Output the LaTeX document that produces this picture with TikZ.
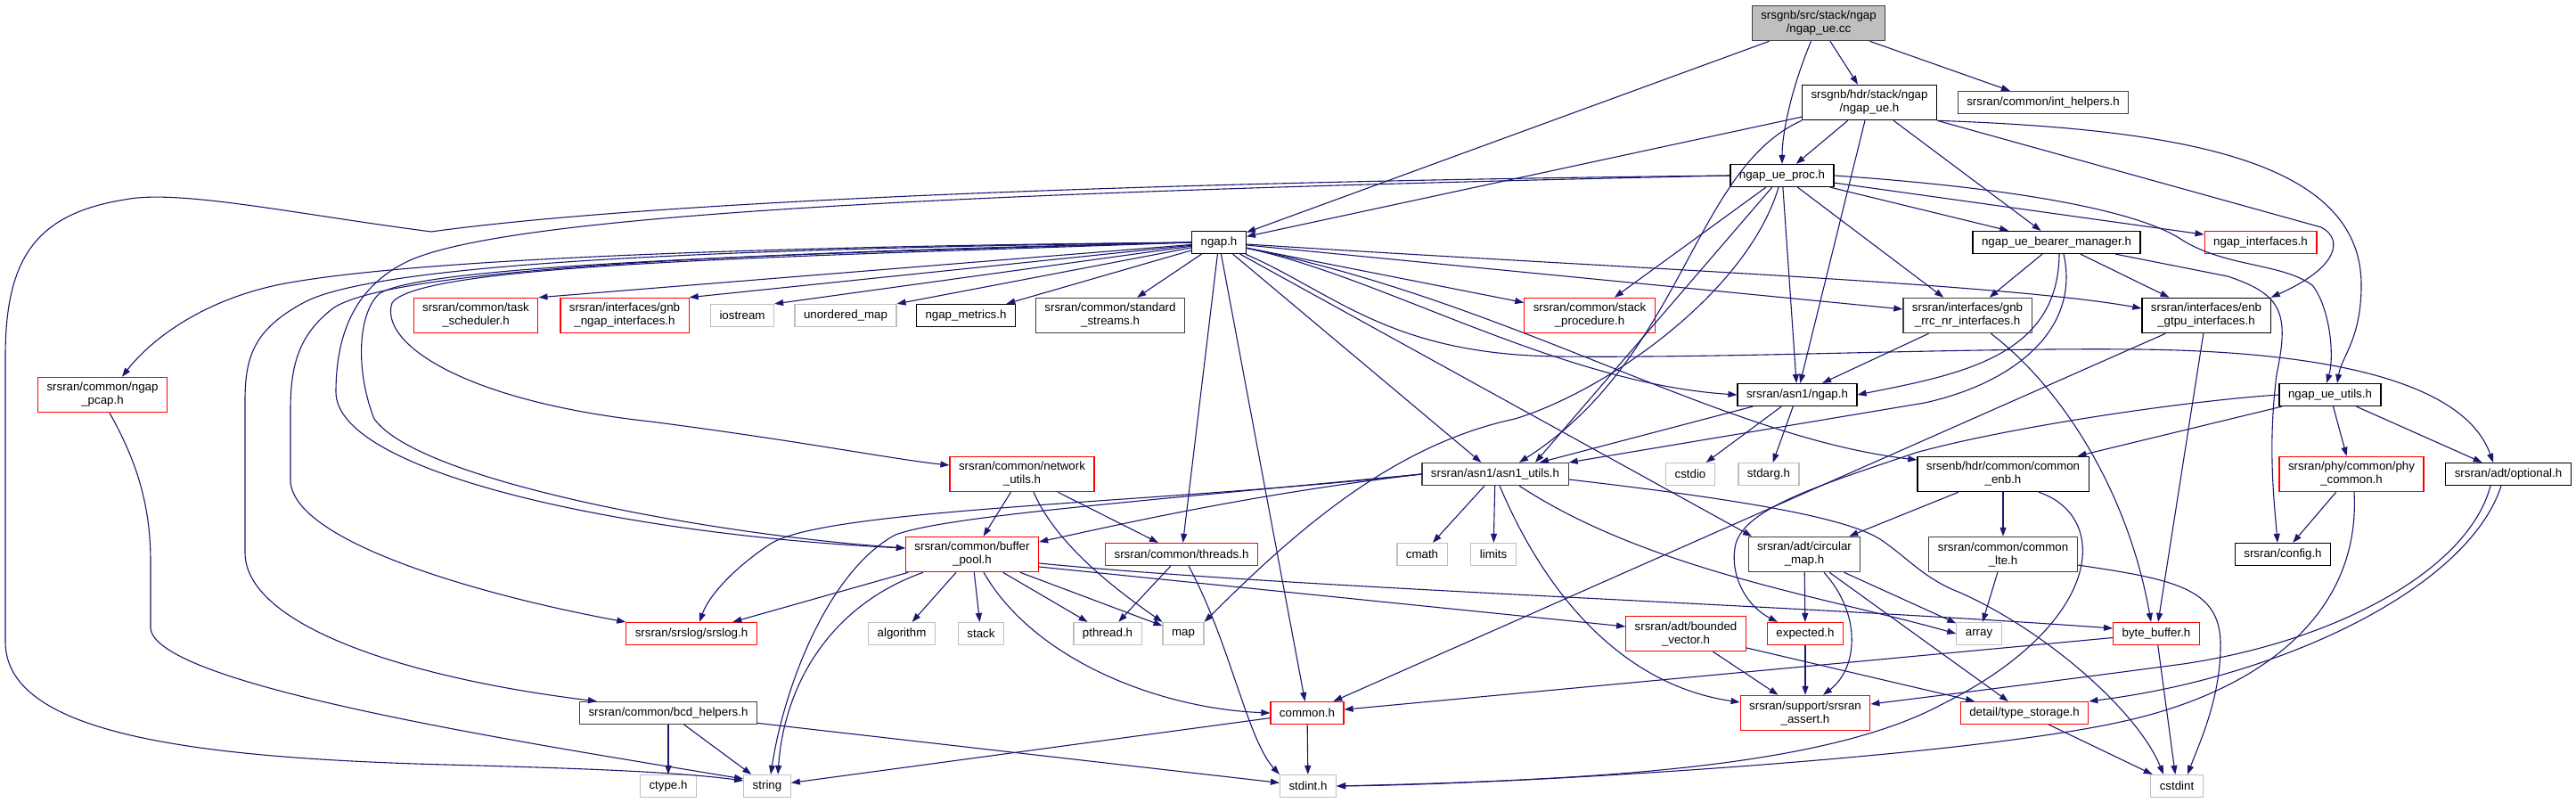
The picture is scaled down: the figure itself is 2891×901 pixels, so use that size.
\documentclass[tikz,border=0pt]{standalone}
\usepackage{fontspec}
\setmainfont{Liberation Sans}
\usepackage{tikz}
\usetikzlibrary{arrows.meta}
\definecolor{edgec}{HTML}{191970}
\definecolor{redc}{HTML}{FF0000}
\definecolor{sysc}{HTML}{BFBFBF}
\definecolor{darkc}{HTML}{404040}
\definecolor{mainc}{HTML}{BFBFBF}
\tikzset{
  hdr/.style={draw=black, line width=1.2pt, fill=white, inner xsep=10pt, inner ysep=6pt, minimum height=25pt, align=center, font=\fontsize{13.3}{15}\selectfont},
  hdrdark/.style={hdr, draw=darkc},
  hdrred/.style={hdr, draw=redc},
  hdrsys/.style={hdr, draw=sysc},
  hdrmain/.style={hdr, draw=darkc, fill=mainc},
  dep/.style={draw=edgec, line width=1.1pt, -{Triangle[length=10pt,width=7pt]}},
}

\begin{document}
\begin{tikzpicture}[x=1pt,y=-1pt]
\useasboundingbox (0,0) rectangle (2891,901);
\node[hdrmain] (src) at (2041,26) {srsgnb/src/stack/ngap\\/ngap\_ue.cc};
\node[hdr] (ueh) at (2098,115) {srsgnb/hdr/stack/ngap\\/ngap\_ue.h};
\node[hdrdark] (inthelp) at (2293,115) {srsran/common/int\_helpers.h};
\node[hdr] (ueproc) at (2000,197) {ngap\_ue\_proc.h};
\node[hdr] (ngaph) at (1368,272) {ngap.h};
\node[hdr] (bearer) at (2308,272) {ngap\_ue\_bearer\_manager.h};
\node[hdrred] (ngapif) at (2537,272) {ngap\_interfaces.h};
\node[hdrred] (pcap) at (115,443) {srsran/common/ngap\\\_pcap.h};
\node[hdrred] (tasksch) at (534,354) {srsran/common/task\\\_scheduler.h};
\node[hdrred] (gnbngap) at (701,354) {srsran/interfaces/gnb\\\_ngap\_interfaces.h};
\node[hdrsys] (iostream) at (833,354) {iostream};
\node[hdrsys] (umap) at (949,354) {unordered\_map};
\node[hdr] (metrics) at (1084,354) {ngap\_metrics.h};
\node[hdrdark] (stdstreams) at (1246,354) {srsran/common/standard\\\_streams.h};
\node[hdrred] (stackproc) at (1784,354) {srsran/common/stack\\\_procedure.h};
\node[hdrdark] (rrcnr) at (2208,354) {srsran/interfaces/gnb\\\_rrc\_nr\_interfaces.h};
\node[hdr] (gtpu) at (2476,354) {srsran/interfaces/enb\\\_gtpu\_interfaces.h};
\node[hdr] (asnngap) at (2017,443) {srsran/asn1/ngap.h};
\node[hdr] (ueutils) at (2615,443) {ngap\_ue\_utils.h};
\node[hdrred] (netutils) at (1147,532) {srsran/common/network\\\_utils.h};
\node[hdrdark] (asnutils) at (1678,532) {srsran/asn1/asn1\_utils.h};
\node[hdrsys] (cstdio) at (1897,532) {cstdio};
\node[hdrsys] (stdarg) at (1985,532) {stdarg.h};
\node[hdr] (commonenb) at (2248,532) {srsenb/hdr/common/common\\\_enb.h};
\node[hdrred] (phycommon) at (2639,532) {srsran/phy/common/phy\\\_common.h};
\node[hdr] (optional) at (2815,532) {srsran/adt/optional.h};
\node[hdrred] (bufpool) at (1091,622) {srsran/common/buffer\\\_pool.h};
\node[hdrred] (threads) at (1326,622) {srsran/common/threads.h};
\node[hdrsys] (cmath) at (1596,622) {cmath};
\node[hdrsys] (limits) at (1676,622) {limits};
\node[hdrdark] (circmap) at (2025,622) {srsran/adt/circular\\\_map.h};
\node[hdrdark] (commonlte) at (2248,622) {srsran/common/common\\\_lte.h};
\node[hdr] (config) at (2562,622) {srsran/config.h};
\node[hdrred] (srslog) at (776,711) {srsran/srslog/srslog.h};
\node[hdrsys] (algorithm) at (1012,711) {algorithm};
\node[hdrsys] (stack) at (1101,711) {stack};
\node[hdrsys] (pthread) at (1243,711) {pthread.h};
\node[hdrsys] (map) at (1328,711) {map};
\node[hdrred] (boundedvec) at (1892,711) {srsran/adt/bounded\\\_vector.h};
\node[hdrred] (expected) at (2026,711) {expected.h};
\node[hdrsys] (array) at (2221,711) {array};
\node[hdrred] (bytebuf) at (2420,711) {byte\_buffer.h};
\node[hdrdark] (bcd) at (750,800) {srsran/common/bcd\_helpers.h};
\node[hdrred] (common) at (1467,800) {common.h};
\node[hdrred] (assert) at (2026,800) {srsran/support/srsran\\\_assert.h};
\node[hdrred] (typestor) at (2272,800) {detail/type\_storage.h};
\node[hdrsys] (ctype) at (750,882) {ctype.h};
\node[hdrsys] (string) at (861,882) {string};
\node[hdrsys] (stdint) at (1468,882) {stdint.h};
\node[hdrsys] (cstdint) at (2443,882) {cstdint};

\draw[dep] (src) -- (ngaph);
\draw[dep] (src) .. controls (2010,100) and (2000,150) .. (ueproc);
\draw[dep] (src) -- (ueh);
\draw[dep] (src) -- (inthelp);

\draw[dep] (ueh) -- (ueproc);
\draw[dep] (ueh) -- (ngaph);
\draw[dep] (ueh) -- (asnngap);
\draw[dep] (ueh.south west) .. controls (1900,190) and (1890,400) .. ([xshift=27pt]asnutils.north);
\draw[dep] (ueh) -- (bearer);
\draw[dep] (ueh.south east) .. controls (2450,145) and (2650,180) .. (2650,320) .. controls (2650,380) and (2628,400) .. ([xshift=8pt]ueutils.north);
\draw[dep] (ueh.south east) -- (2605,255) .. controls (2630,268) and (2625,300) .. (gtpu.north east);

\draw[dep] (ueproc.west) .. controls (1200,205) and (700,230) .. (484,260) .. controls (330,240) and (200,212) .. (140,224) .. controls (40,240) and (6,290) .. (6,400) -- (6,720) .. controls (6,820) and (200,850) .. (500,858) .. controls (650,862) and (760,866) .. ([yshift=6pt]string.west);
\draw[dep] (ueproc.west) .. controls (1100,215) and (560,240) .. (454,295) .. controls (395,325) and (377,380) .. (377,440) .. controls (377,530) and (700,600) .. ([yshift=7pt]bufpool.west);
\draw[dep] (ueproc) -- (stackproc);
\draw[dep] (ueproc) -- ([xshift=45pt]asnutils.north);
\draw[dep] (ueproc) .. controls (1960,330) and (1800,440) .. (1700,470) .. controls (1560,500) and (1450,600) .. (map.north east);
\draw[dep] (ueproc) -- (asnngap);
\draw[dep] (ueproc) -- (rrcnr);
\draw[dep] (ueproc.east) .. controls (2250,210) and (2400,235) .. (2450,270) .. controls (2500,300) and (2560,295) .. (2595,320) .. controls (2615,345) and (2620,400) .. ([xshift=-4pt]ueutils.north);
\draw[dep] (ueproc) -- (ngapif);
\draw[dep] (ueproc) -- (bearer);

\draw[dep] (bearer) -- (rrcnr);
\draw[dep] ([xshift=3pt]bearer.south) .. controls (2310,400) and (2200,420) .. (asnngap.east);
\draw[dep] ([xshift=8pt]bearer.south) .. controls (2335,370) and (2260,430) .. (2160,452) -- (asnutils.north east);
\draw[dep] (bearer) -- (gtpu);
\draw[dep] ([xshift=66pt]bearer.south) -- (2500,310) .. controls (2560,330) and (2570,350) .. (2555,420) .. controls (2545,500) and (2552,560) .. ([xshift=-6pt]config.north);

\draw[dep] (ngaph.west) .. controls (1000,275) and (500,285) .. (320,318) .. controls (230,335) and (170,380) .. ([xshift=22pt]pcap.north);
\draw[dep] (ngaph.west) .. controls (900,278) and (430,290) .. (340,340) .. controls (285,370) and (275,400) .. (275,450) -- (275,620) .. controls (275,700) and (450,760) .. ([xshift=20pt]bcd.north west);
\draw[dep] (ngaph.west) .. controls (900,282) and (450,298) .. (375,345) .. controls (335,375) and (326,410) .. (326,460) -- (326,540) .. controls (330,610) and (550,670) .. (srslog.north west);
\draw[dep] (ngaph.west) .. controls (900,288) and (470,295) .. (440,340) .. controls (425,385) and (520,450) .. (730,473) .. controls (900,495) and (1000,515) .. ([yshift=10pt]netutils.west);
\draw[dep] (ngaph.west) .. controls (900,284) and (470,297) .. (425,330) .. controls (400,355) and (400,420) .. (420,470) .. controls (470,540) and (800,600) .. ([yshift=7pt]bufpool.west);
\draw[dep] (ngaph) -- (tasksch.north east);
\draw[dep] (ngaph) -- (gnbngap.north east);
\draw[dep] (ngaph) -- (iostream.north east);
\draw[dep] (ngaph) -- (umap.north east);
\draw[dep] (ngaph) -- (metrics);
\draw[dep] (ngaph) -- (stdstreams);
\draw[dep] (ngaph) -- (stackproc);
\draw[dep] (ngaph) -- (rrcnr);
\draw[dep] (ngaph) .. controls (1800,300) and (2250,318) .. ([yshift=8pt]gtpu.west);
\draw[dep] (ngaph) .. controls (1550,310) and (1750,430) .. (asnngap.west);
\draw[dep] (ngaph) -- (asnutils);
\draw[dep] (ngaph) .. controls (1700,340) and (1930,490) .. ([yshift=16pt]commonenb.west);
\draw[dep] (ngaph) .. controls (1500,330) and (1560,398) .. (1750,400) .. controls (1950,402) and (2200,390) .. (2400,392) .. controls (2650,395) and (2770,440) .. ([xshift=-17pt]optional.north);
\draw[dep] (ngaph) -- ([xshift=-59pt]circmap.north);
\draw[dep] (ngaph) -- (threads);
\draw[dep] (ngaph) -- (common);

\draw[dep] (asnngap) -- (asnutils);
\draw[dep] (asnngap) -- (cstdio);
\draw[dep] (asnngap) -- (stdarg);

\draw[dep] (rrcnr) -- (asnngap);
\draw[dep] (rrcnr) .. controls (2320,440) and (2390,560) .. ([xshift=-6pt]bytebuf.north);
\draw[dep] (gtpu) -- (bytebuf);
\draw[dep] (gtpu) -- (common);

\draw[dep] (ueutils) -- (commonenb);
\draw[dep] (ueutils) -- (phycommon);
\draw[dep] (ueutils) -- (optional);
\draw[dep] (ueutils.west) .. controls (2450,450) and (2250,480) .. (2150,508) .. controls (2040,545) and (1960,570) .. (1948,610) .. controls (1940,645) and (1960,680) .. ([xshift=12pt]expected.north west);

\draw[dep] (commonenb) -- (circmap);
\draw[dep] (commonenb) -- (commonlte);
\draw[dep] ([xshift=40pt]commonenb.south) .. controls (2370,580) and (2360,700) .. (2180,790) .. controls (2050,860) and (1800,875) .. (stdint.east);

\draw[dep] (phycommon) -- (config);
\draw[dep] ([xshift=3pt]phycommon.south) .. controls (2650,700) and (2520,780) .. (2380,810) .. controls (2200,850) and (1700,880) .. (stdint.east);

\draw[dep] ([xshift=-20pt]optional.south) .. controls (2770,640) and (2620,720) .. (2450,745) .. controls (2300,765) and (2180,780) .. ([yshift=10pt]assert.east);
\draw[dep] ([xshift=-8pt]optional.south) .. controls (2770,660) and (2560,760) .. (typestor.north east);

\draw[dep] (netutils) -- (bufpool);
\draw[dep] ([xshift=13pt]netutils.south) .. controls (1185,610) and (1250,660) .. (map.north west);
\draw[dep] (netutils) -- (threads);

\draw[dep] (threads) -- (pthread);
\draw[dep] ([xshift=8pt]threads.south) .. controls (1380,720) and (1400,830) .. (stdint.north west);

\draw[dep] (bufpool) -- (srslog);
\draw[dep] ([xshift=-55pt]bufpool.south) .. controls (930,680) and (880,770) .. ([xshift=12pt]string.north);
\draw[dep] (bufpool) -- (algorithm);
\draw[dep] (bufpool) -- (stack);
\draw[dep] (bufpool) -- (pthread);
\draw[dep] (bufpool) -- (map);
\draw[dep] ([xshift=13pt]bufpool.south) .. controls (1160,740) and (1300,795) .. (common.west);
\draw[dep] ([yshift=-10pt]bufpool.east) .. controls (1450,660) and (2000,678) .. ([yshift=6pt]bytebuf.west);
\draw[dep] ([yshift=-14pt]bufpool.east) -- ([yshift=8pt]boundedvec.west);

\draw[dep] (asnutils) -- (cmath);
\draw[dep] (asnutils) -- (limits);
\draw[dep] ([xshift=5pt]asnutils.south) .. controls (1740,680) and (1830,770) .. ([yshift=12pt]assert.west);
\draw[dep] ([xshift=27pt]asnutils.south) .. controls (1850,640) and (2050,670) .. (array.west);
\draw[dep] ([yshift=-6pt]asnutils.east) .. controls (1950,560) and (2070,580) .. (2110,605) .. controls (2140,625) and (2160,650) .. (2200,665) .. controls (2300,710) and (2400,800) .. ([xshift=-15pt]cstdint.north);
\draw[dep] (asnutils.west) .. controls (1300,565) and (930,570) .. (865,610) .. controls (820,640) and (795,670) .. ([xshift=9pt]srslog.north);
\draw[dep] (asnutils.west) .. controls (1400,555) and (1250,590) .. ([yshift=14pt]bufpool.east);
\draw[dep] (asnutils.west) .. controls (1250,565) and (1060,580) .. (1005,600) .. controls (930,640) and (880,770) .. ([xshift=4pt]string.north);

\draw[dep] (circmap) -- (expected);
\draw[dep] ([xshift=22pt]circmap.south) .. controls (2090,690) and (2085,750) .. ([xshift=20pt]assert.north);
\draw[dep] (circmap) -- (array);
\draw[dep] (circmap) -- (typestor);

\draw[dep] (commonlte) -- (array);
\draw[dep] ([yshift=-12pt]commonlte.east) .. controls (2440,650) and (2490,660) .. (2492,720) .. controls (2493,780) and (2470,830) .. ([xshift=12pt]cstdint.north);

\draw[dep] (boundedvec) -- (assert);
\draw[dep] (boundedvec) -- (typestor);
\draw[dep] (expected) -- (assert);
\draw[dep] (bytebuf) -- (common);
\draw[dep] (bytebuf) -- (cstdint);
\draw[dep] (typestor) -- (cstdint);
\draw[dep] (common) -- (string);
\draw[dep] (common) -- (stdint);

\draw[dep] (bcd) -- (ctype);
\draw[dep] (bcd) -- (string);
\draw[dep] (bcd) -- (stdint);
\draw[dep] ([xshift=8pt]pcap.south) .. controls (155,520) and (169,570) .. (169,630) -- (169,705) .. controls (175,770) and (600,835) .. ([yshift=8pt]string.west);
\end{tikzpicture}
\end{document}
